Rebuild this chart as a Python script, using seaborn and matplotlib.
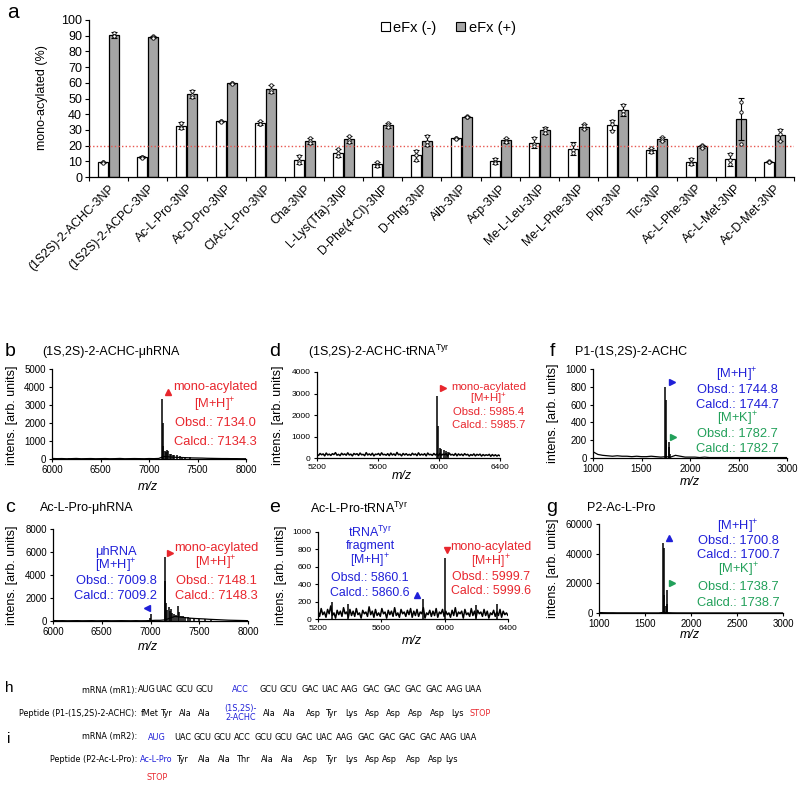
import numpy as np
import pandas as pd
import matplotlib
matplotlib.use("Agg")
import matplotlib.pyplot as plt
import seaborn as sns
from matplotlib import font_manager
from matplotlib.font_manager import FontProperties
from matplotlib.patches import Patch
from matplotlib.lines import Line2D

# ---------------- panel a data ----------------
compounds = ["(1S2S)-2-ACHC-3NP", "(1S2S)-2-ACPC-3NP", "Ac-L-Pro-3NP", "Ac-D-Pro-3NP",
             "ClAc-L-Pro-3NP", "Cha-3NP", "L-Lys(Tfa)-3NP", "D-Phe(4-Cl)-3NP", "D-Phg-3NP",
             "Aib-3NP", "Acp-3NP", "Me-L-Leu-3NP", "Me-L-Phe-3NP", "Pip-3NP", "Tic-3NP",
             "Ac-L-Phe-3NP", "Ac-L-Met-3NP", "Ac-D-Met-3NP"]
conditions = ["eFx (-)", "eFx (+)"]
efx_minus = [9.3, 12.7, 32.6, 35.5, 34.4, 10.9, 15.3, 8.0, 13.7, 24.6, 10.2, 21.9, 18.0, 33.0, 16.9, 9.7, 11.3, 9.8]
efx_plus = [90.5, 89.2, 52.8, 59.6, 56.1, 23.1, 23.9, 33.0, 23.0, 38.4, 23.3, 29.7, 32.1, 42.8, 24.2, 19.5, 36.8, 26.8]
err_minus = [0.5, 0.5, 2.3, 0.4, 1.3, 2.8, 2.8, 1.8, 3.3, 0.4, 1.8, 3.5, 4.0, 3.3, 1.8, 2.3, 4.0, 0.3]
err_plus = [2.0, 0.8, 2.3, 0.4, 2.8, 1.8, 2.3, 1.5, 3.5, 0.4, 1.5, 2.0, 1.8, 4.0, 1.3, 1.0, 13.5, 4.0]
rep_minus = [[9.6, 9.3, 9.0], [13.0, 12.7, 12.4], [34.5, 32.0, 31.3], [35.8, 35.5, 35.2],
             [35.6, 34.0, 33.6], [13.3, 10.5, 8.9], [17.6, 15.0, 13.3], [9.6, 7.5, 6.9],
             [16.5, 13.8, 10.8], [24.9, 24.6, 24.3], [11.6, 9.8, 9.2], [24.8, 21.2, 19.7],
             [21.2, 17.5, 15.3], [35.8, 33.6, 29.6], [18.3, 16.5, 15.9], [11.6, 9.0, 8.5],
             [14.6, 10.8, 8.5], [10.0, 9.8, 9.6]]
rep_plus = [[92.0, 90.0, 89.5], [89.8, 89.2, 88.6], [54.8, 52.5, 51.1], [59.9, 59.6, 59.3],
            [58.8, 55.6, 53.9], [24.6, 23.2, 21.5], [25.9, 23.6, 22.2], [34.2, 33.0, 31.8],
            [26.0, 22.5, 20.5], [38.7, 38.4, 38.1], [24.7, 23.0, 22.2], [31.4, 29.8, 27.9],
            [33.6, 32.3, 30.4], [46.0, 42.0, 40.4], [25.3, 24.3, 23.0], [20.2, 19.7, 18.6],
            [48.0, 41.5, 21.0], [30.0, 27.5, 23.0]]
threshold = 20

# ---------------- spectra data ----------------
b_base = [30, 20, 25, 15, 20, 30, 15, 20, 25, 15, 20, 25, 15, 20, 30, 15, 20, 25, 20, 15, 25,
          20, 30, 140, 120, 100, 90, 80, 70, 60, 55, 50, 40, 35, 30, 25, 25, 20, 20, 15, 15]
b_peak_mz = [7134, 7140, 7147, 7160, 7172, 7185, 7198, 7212, 7228, 7245, 7262, 7290, 7315, 7340, 7375, 7420, 6180, 6260, 6900]
b_peak_h = [3350, 2000, 700, 450, 380, 480, 420, 300, 260, 200, 220, 250, 170, 130, 110, 100, 70, 50, 50]

c_base = [40, 25, 30, 20, 25, 30, 20, 25, 30, 20, 25, 30, 20, 25, 30, 25, 20, 30, 20, 25, 40,
          60, 60, 100, 250, 400, 350, 300, 250, 220, 200, 180, 150, 130, 110, 90, 70, 60, 50, 40, 30]
c_peak_mz = [6995, 7010, 7148, 7153, 7160, 7172, 7185, 7195, 7210, 7225, 7245, 7262, 7285, 7292,
             7310, 7330, 7355, 7380, 7410, 7450, 7500, 7560, 7620]
c_peak_h = [250, 650, 5600, 3500, 1600, 1000, 1200, 900, 1050, 700, 600, 500, 1300, 800,
            450, 400, 350, 320, 300, 250, 200, 150, 100]

d_base = [170, 120, 210, 150, 190, 100, 230, 140, 180, 120, 200, 160, 250, 130, 170, 110, 220, 150, 190, 130,
          240, 140, 180, 100, 210, 160, 200, 120, 230, 150, 170, 110, 250, 140, 190, 130, 220, 100, 180, 160,
          210, 120, 240, 150, 170, 130, 200, 110, 230, 140, 190, 120, 260, 150, 180, 100, 210, 140, 200, 130,
          170, 120, 220, 150, 190, 110, 240, 130, 180, 140, 200, 100, 230, 150, 170, 120, 210, 140, 190, 110,
          220, 130, 180, 150, 200, 90, 230, 140, 170, 120, 210, 100, 190, 130, 180, 110, 200, 140, 170, 90,
          160, 120, 190, 100, 170, 130, 180, 90, 160, 110, 150, 120, 170, 80, 160, 100, 150, 90, 140, 100]
d_peak_mz = [5985, 5992, 6005, 6015, 6030, 6045, 6062]
d_peak_h = [2900, 1500, 450, 400, 380, 320, 300]

e_base = [90, 30, 120, 50, 80, 20, 110, 60, 150, 40, 70, 10, 100, 50, 90, 30, 130, 60, 80, 20,
          110, 40, 90, 30, 120, 50, 70, 10, 100, 60, 80, 30, 140, 50, 90, 20, 110, 40, 70, 30,
          120, 60, 80, 10, 100, 50, 90, 30, 130, 40, 70, 20, 110, 60, 80, 30, 100, 50, 120, 20,
          90, 40, 110, 30, 80, 60, 130, 10, 70, 50, 100, 30, 90, 40, 120, 20, 80, 60, 110, 30,
          90, 50, 70, 20, 100, 40, 130, 30, 80, 60, 90, 10, 110, 50, 70, 30, 120, 40, 90, 20,
          100, 60, 80, 30, 110, 40, 90, 10, 70, 50, 100, 30, 80, 40, 110, 20, 90, 50, 70, 40]
e_peak_mz = [5290, 5390, 5860, 6000, 6200, 6330]
e_peak_h = [200, 170, 230, 700, 160, 170]

f_base = [70, 40, 30, 25, 20, 25, 20, 20, 15, 20, 15, 15, 20, 15, 10, 15, 10, 30, 20, 10, 10,
          10, 5, 10, 5, 5, 5, 5, 5, 5, 5, 5, 5, 5, 5, 5, 5, 5, 5, 5, 5]
f_peak_mz = [1005, 1744, 1748, 1752, 1782, 1786, 1790]
f_peak_h = [80, 800, 650, 200, 180, 120, 40]

g_base = [300, 200, 150, 150, 100, 100, 100, 80, 80, 80, 80, 60, 60, 60, 400, 200, 100, 60, 60, 50, 50,
          50, 40, 40, 40, 40, 40, 30, 30, 30, 30, 30, 30, 30, 30, 30, 30, 30, 30, 30, 30]
g_peak_mz = [1700, 1703, 1707, 1725, 1738, 1742]
g_peak_h = [47500, 44000, 12000, 5000, 15500, 6000]

# ---------------- panel h / i text data ----------------
mr1_codons = ["AUG", "UAC", "GCU", "GCU", "ACC", "GCU", "GCU", "GAC", "UAC", "AAG", "GAC", "GAC", "GAC", "GAC", "AAG", "UAA"]
p1_residues = ["fMet", "Tyr", "Ala", "Ala", "(1S,2S)-\n2-ACHC", "Ala", "Ala", "Asp", "Tyr", "Lys", "Asp", "Asp", "Asp", "Asp", "Lys", "STOP"]
mr2_codons = ["AUG", "UAC", "GCU", "GCU", "ACC", "GCU", "GCU", "GAC", "UAC", "AAG", "GAC", "GAC", "GAC", "GAC", "AAG", "UAA"]
p2_residues = ["Ac-L-Pro", "Tyr", "Ala", "Ala", "Thr", "Ala", "Ala", "Asp", "Tyr", "Lys", "Asp", "Asp", "Asp", "Asp", "Lys"]

# ---------------- style ----------------
sns.set_theme(style="ticks", rc={
    "axes.edgecolor": "black", "axes.linewidth": 0.9, "xtick.color": "black", "ytick.color": "black",
    "text.color": "black", "axes.labelcolor": "black", "xtick.major.width": 0.8, "ytick.major.width": 0.8})
plt.rcParams["font.family"] = ["Liberation Sans", "DejaVu Sans"]
plt.rcParams["mathtext.fontset"] = "custom"
plt.rcParams["mathtext.rm"] = "Liberation Sans"
plt.rcParams["mathtext.it"] = "Liberation Sans:italic"
plt.rcParams["mathtext.bf"] = "Liberation Sans:bold"

RED = "#e8262d"
BLUE = "#2020d8"
GREEN = "#22a05a"
GRAY = "#a5a5a5"

W, H = 798, 786
fig = plt.figure(figsize=(W / 100, H / 100), dpi=100)


def rect(x0, x1, y0, y1):
    return [x0 / W, 1 - y1 / H, (x1 - x0) / W, (y1 - y0) / H]


def P(x, y):
    return (x / W, 1 - y / H)


def T(x, y, s, **kw):
    kw.setdefault("ha", "center")
    kw.setdefault("va", "center")
    return fig.text(*P(x, y), s, **kw)


# ---------------- panel a ----------------
n = len(compounds)
ax = fig.add_axes(rect(89, 794, 20, 177))
df = pd.DataFrame({"compound": compounds * 2,
                   "condition": [conditions[0]] * n + [conditions[1]] * n,
                   "value": efx_minus + efx_plus})
sns.barplot(data=df, x="compound", y="value", hue="condition", hue_order=conditions,
            palette=["white", GRAY], saturation=1, width=0.56, gap=0.08,
            edgecolor="black", linewidth=0.9, errorbar=None, ax=ax, legend=False)
for cont, vals, errs, reps in zip(ax.containers, [efx_minus, efx_plus], [err_minus, err_plus], [rep_minus, rep_plus]):
    xs = np.array([r.get_x() + r.get_width() / 2 for r in cont])
    ax.errorbar(xs, vals, yerr=errs, fmt="none", ecolor="black", elinewidth=0.8,
                capsize=2.2, capthick=0.8, zorder=4)
    ax.scatter(np.repeat(xs, 3), np.array(reps).ravel(), s=6, facecolor="white",
               edgecolor="black", linewidth=0.6, zorder=5)
ax.axhline(threshold, color="#e8564f", lw=1.0, ls=(0, (1, 1.6)), zorder=3)
ax.set_xlim(-0.5, n - 0.5)
ax.set_ylim(0, 100)
ax.set_yticks(range(0, 101, 10))
ax.set_xticks(range(n))
ax.set_xticklabels(compounds, rotation=45, ha="right", rotation_mode="anchor", fontsize=8.8)
ax.set_xticks(np.arange(-0.5, n, 1), minor=True)
ax.tick_params(axis="x", which="major", length=0, pad=4)
ax.tick_params(axis="x", which="minor", length=3, width=0.8, color="black")
ax.tick_params(axis="y", length=3, width=0.8, pad=2, labelsize=9)
ax.set_xlabel("")
ax.set_ylabel("")
sns.despine(ax=ax)
T(42, 98, "mono-acylated (%)", rotation=90, fontsize=9)
T(13, 12, "a", fontsize=15)

handles = [Patch(facecolor="white", edgecolor="black", lw=0.8), Patch(facecolor=GRAY, edgecolor="black", lw=0.8)]
fig.legend(handles, conditions, loc="center left", bbox_to_anchor=P(381, 28), ncol=2, frameon=False,
           fontsize=10.5, handlelength=0.6, handleheight=0.6, handletextpad=0.25, columnspacing=1.35,
           borderpad=0, borderaxespad=0)


# ---------------- spectra ----------------
def draw_spec(px, base, lo, hi, pk_mz, pk_h, xlim, xticks, ylim, yticks, fs, lw=0.9):
    a = fig.add_axes(rect(*px))
    mz = np.linspace(lo, hi, len(base))
    sns.lineplot(x=mz, y=base, ax=a, color="black", linewidth=lw, estimator=None, sort=False)
    a.vlines(pk_mz, 0, pk_h, color="black", linewidth=1.1)
    a.set_xlim(*xlim)
    a.set_ylim(*ylim)
    a.set_xticks(xticks)
    a.set_yticks(yticks)
    a.tick_params(labelsize=fs, length=2.5, width=0.8, pad=2)
    a.set_xlabel("")
    a.set_ylabel("")
    sns.despine(ax=a)
    return a


draw_spec((52, 246, 369, 459), b_base, 6000, 8000, b_peak_mz, b_peak_h, (6000, 8000),
          range(6000, 8001, 500), (0, 5000), range(0, 5001, 1000), 7)
draw_spec((53, 248, 529, 621), c_base, 6000, 8000, c_peak_mz, c_peak_h, (6000, 8000),
          range(6000, 8001, 500), (0, 8000), range(0, 8001, 2000), 7)
draw_spec((317, 500, 372, 458), d_base, 5200, 6400, d_peak_mz, d_peak_h, (5200, 6400),
          range(5200, 6401, 400), (0, 4000), range(0, 4001, 1000), 6, lw=1.1)
draw_spec((318, 508, 532, 619), e_base, 5200, 6400, e_peak_mz, e_peak_h, (5200, 6400),
          range(5200, 6401, 400), (0, 1000), range(0, 1001, 200), 6, lw=1.1)
draw_spec((593, 787, 369, 458), f_base, 1000, 3000, f_peak_mz, f_peak_h, (1000, 3000),
          range(1000, 3001, 500), (0, 1000), range(0, 1001, 200), 7)
draw_spec((599, 783, 524, 613), g_base, 1000, 3000, g_peak_mz, g_peak_h, (1000, 3000),
          range(1000, 3001, 500), (0, 60000), range(0, 60001, 20000), 7)

ylab = "intens. [arb. units]"
for (x, y) in [(12, 415), (278, 415), (553, 413), (12, 575), (281, 575), (553, 568)]:
    T(x, y, ylab, rotation=90, fontsize=9)
for (x, y) in [(148, 487), (402, 476), (690, 482), (148, 647), (412, 641), (690, 635)]:
    T(x, y, "m/z", fontsize=9, style="italic")

for (x, y, s) in [(10, 352, "b"), (275, 352, "d"), (552, 352, "f"),
                  (10, 508, "c"), (275, 508, "e"), (552, 508, "g")]:
    T(x, y, s, fontsize=14)
for (x, y, s) in [(42, 352, "(1S,2S)-2-ACHC-μhRNA"), (308, 352, r"(1S,2S)-2-ACHC-tRNA$^{\mathrm{Tyr}}$"),
                  (575, 352, "P1-(1S,2S)-2-ACHC"), (40, 508, "Ac-L-Pro-μhRNA"),
                  (310, 508, r"Ac-L-Pro-tRNA$^{\mathrm{Tyr}}$"), (587, 508, "P2-Ac-L-Pro")]:
    T(x, y, s, fontsize=9, ha="left")

MH = r"[M+H]$^{\mathrm{+}}$"
MK = r"[M+K]$^{\mathrm{+}}$"


def block(x, ys, lines, color, fs):
    for y, s in zip(ys, lines):
        T(x, y, s, color=color, fontsize=fs)


block(215, [387, 405, 423, 442], ["mono-acylated", MH, "Obsd.: 7134.0", "Calcd.: 7134.3"], RED, 9.3)
block(216, [548, 563, 581, 596], ["mono-acylated", MH, "Obsd.: 7148.1", "Calcd.: 7148.3"], RED, 9.3)
block(116, [552, 566, 581, 596], ["μhRNA", MH, "Obsd.: 7009.8", "Calcd.: 7009.2"], BLUE, 9.3)
block(489, [387, 399, 412, 425], ["mono-acylated", MH, "Obsd.: 5985.4", "Calcd.: 5985.7"], RED, 8.2)
block(491, [547, 562, 577, 591], ["mono-acylated", MH, "Obsd.: 5999.7", "Calcd.: 5999.6"], RED, 8.9)
block(370, [532, 546, 561, 578, 593], [r"tRNA$^{\mathrm{Tyr}}$", "fragment", MH, "Obsd.: 5860.1", "Calcd.: 5860.6"], BLUE, 8.9)
block(737, [375, 390, 405], [MH, "Obsd.: 1744.8", "Calcd.: 1744.7"], BLUE, 9.3)
block(737, [419, 434, 449], [MK, "Obsd.: 1782.7", "Calcd.: 1782.7"], GREEN, 9.3)
block(738, [527, 541, 555], [MH, "Obsd.: 1700.8", "Calcd.: 1700.7"], BLUE, 9.3)
block(738, [570, 587, 603], [MK, "Obsd.: 1738.7", "Calcd.: 1738.7"], GREEN, 9.3)

for (x, y, m, c) in [(168, 392, "^", RED), (170, 553, ">", RED), (147, 608, "<", BLUE),
                     (443, 388, ">", RED), (447, 550, "v", RED), (417, 595, "^", BLUE),
                     (672, 382, ">", BLUE), (673, 437, ">", GREEN), (669, 538, "^", BLUE),
                     (672, 583, ">", GREEN)]:
    fig.add_artist(Line2D([x / W], [1 - y / H], marker=m, color=c,
                          markersize=4.5, linestyle="none", transform=fig.transFigure))


# ---------------- panels h / i ----------------
def pick_condensed():
    prio = ["liberationsansnarrow", "notosans", "dejavusans", "opensans", "roboto", "lato"]
    found = []
    for f in font_manager.fontManager.ttflist:
        fn = f.fname.lower().replace("-", "").replace("_", "")
        if not ("narrow" in fn or "condensed" in fn):
            continue
        if "bold" in fn or "italic" in fn or "oblique" in fn or "mono" in fn or "serif" in fn \
                or "semi" in fn or "extra" in fn or "light" in fn or "black" in fn or "medium" in fn or "thin" in fn:
            continue
        if f.style != "normal":
            continue
        rank = next((i for i, p in enumerate(prio) if p in fn), len(prio))
        found.append((rank, f.fname))
    if found:
        found.sort()
        return FontProperties(fname=found[0][1])
    return FontProperties(family="Liberation Sans")


seq_fp = pick_condensed()
renderer = fig.canvas.get_renderer()
_probe = fig.text(0, 0, "AUG UAC GCU GCU", fontproperties=seq_fp, fontsize=10)
_w = _probe.get_window_extent(renderer).width
_probe.remove()
sfs = min(7.6, 10 * 78 / _w)


def S(x, y, s, **kw):
    fp = seq_fp.copy()
    fp.set_size(sfs)
    kw.setdefault("ha", "center")
    return T(x, y, s, fontproperties=fp, **kw)


YH1, YH2, YI1, YI2, YST = 690, 713, 737, 760, 777
T(9, 688, "h", fontsize=11)
T(9, 739, "i", fontsize=11)
S(137, YH1, "mRNA (mR1):", ha="right")
S(137, YH2, "Peptide (P1-(1S,2S)-2-ACHC):", ha="right")
S(137, YI1, "mRNA (mR2):", ha="right")
S(137, YI2, "Peptide (P2-Ac-L-Pro):", ha="right")

mr1_x = [146.7, 164, 184, 204, 240.7, 269, 289, 310, 330, 350, 371, 392, 413, 434, 455, 473]
p1_x = [150, 167, 185, 204, 240.7, 269, 289, 313, 332, 351, 372, 393, 415, 437, 457, 480]
mr2_x = [156.7, 182.7, 202.7, 222.7, 242.7, 263.3, 283.3, 304, 324, 345, 365.7, 386.7, 407.3, 428.3, 448.3, 468.3]
p2_x = [156.7, 183, 204, 224, 244, 267, 287, 310, 332, 351, 372, 389, 413, 435, 452]

for i, (s, x) in enumerate(zip(mr1_codons, mr1_x)):
    S(x, YH1, s, color=BLUE if i == 4 else "black")
for i, (s, x) in enumerate(zip(p1_residues, p1_x)):
    col = BLUE if i == 4 else (RED if s == "STOP" else "black")
    S(x, YH2, s, color=col, linespacing=1.1)
for i, (s, x) in enumerate(zip(mr2_codons, mr2_x)):
    S(x, YI1, s, color=BLUE if i == 0 else "black")
for i, (s, x) in enumerate(zip(p2_residues, p2_x)):
    S(x, YI2, s, color=BLUE if i == 0 else "black")
S(157, YST, "STOP", color=RED)

fig.savefig("out.png", dpi=100)
